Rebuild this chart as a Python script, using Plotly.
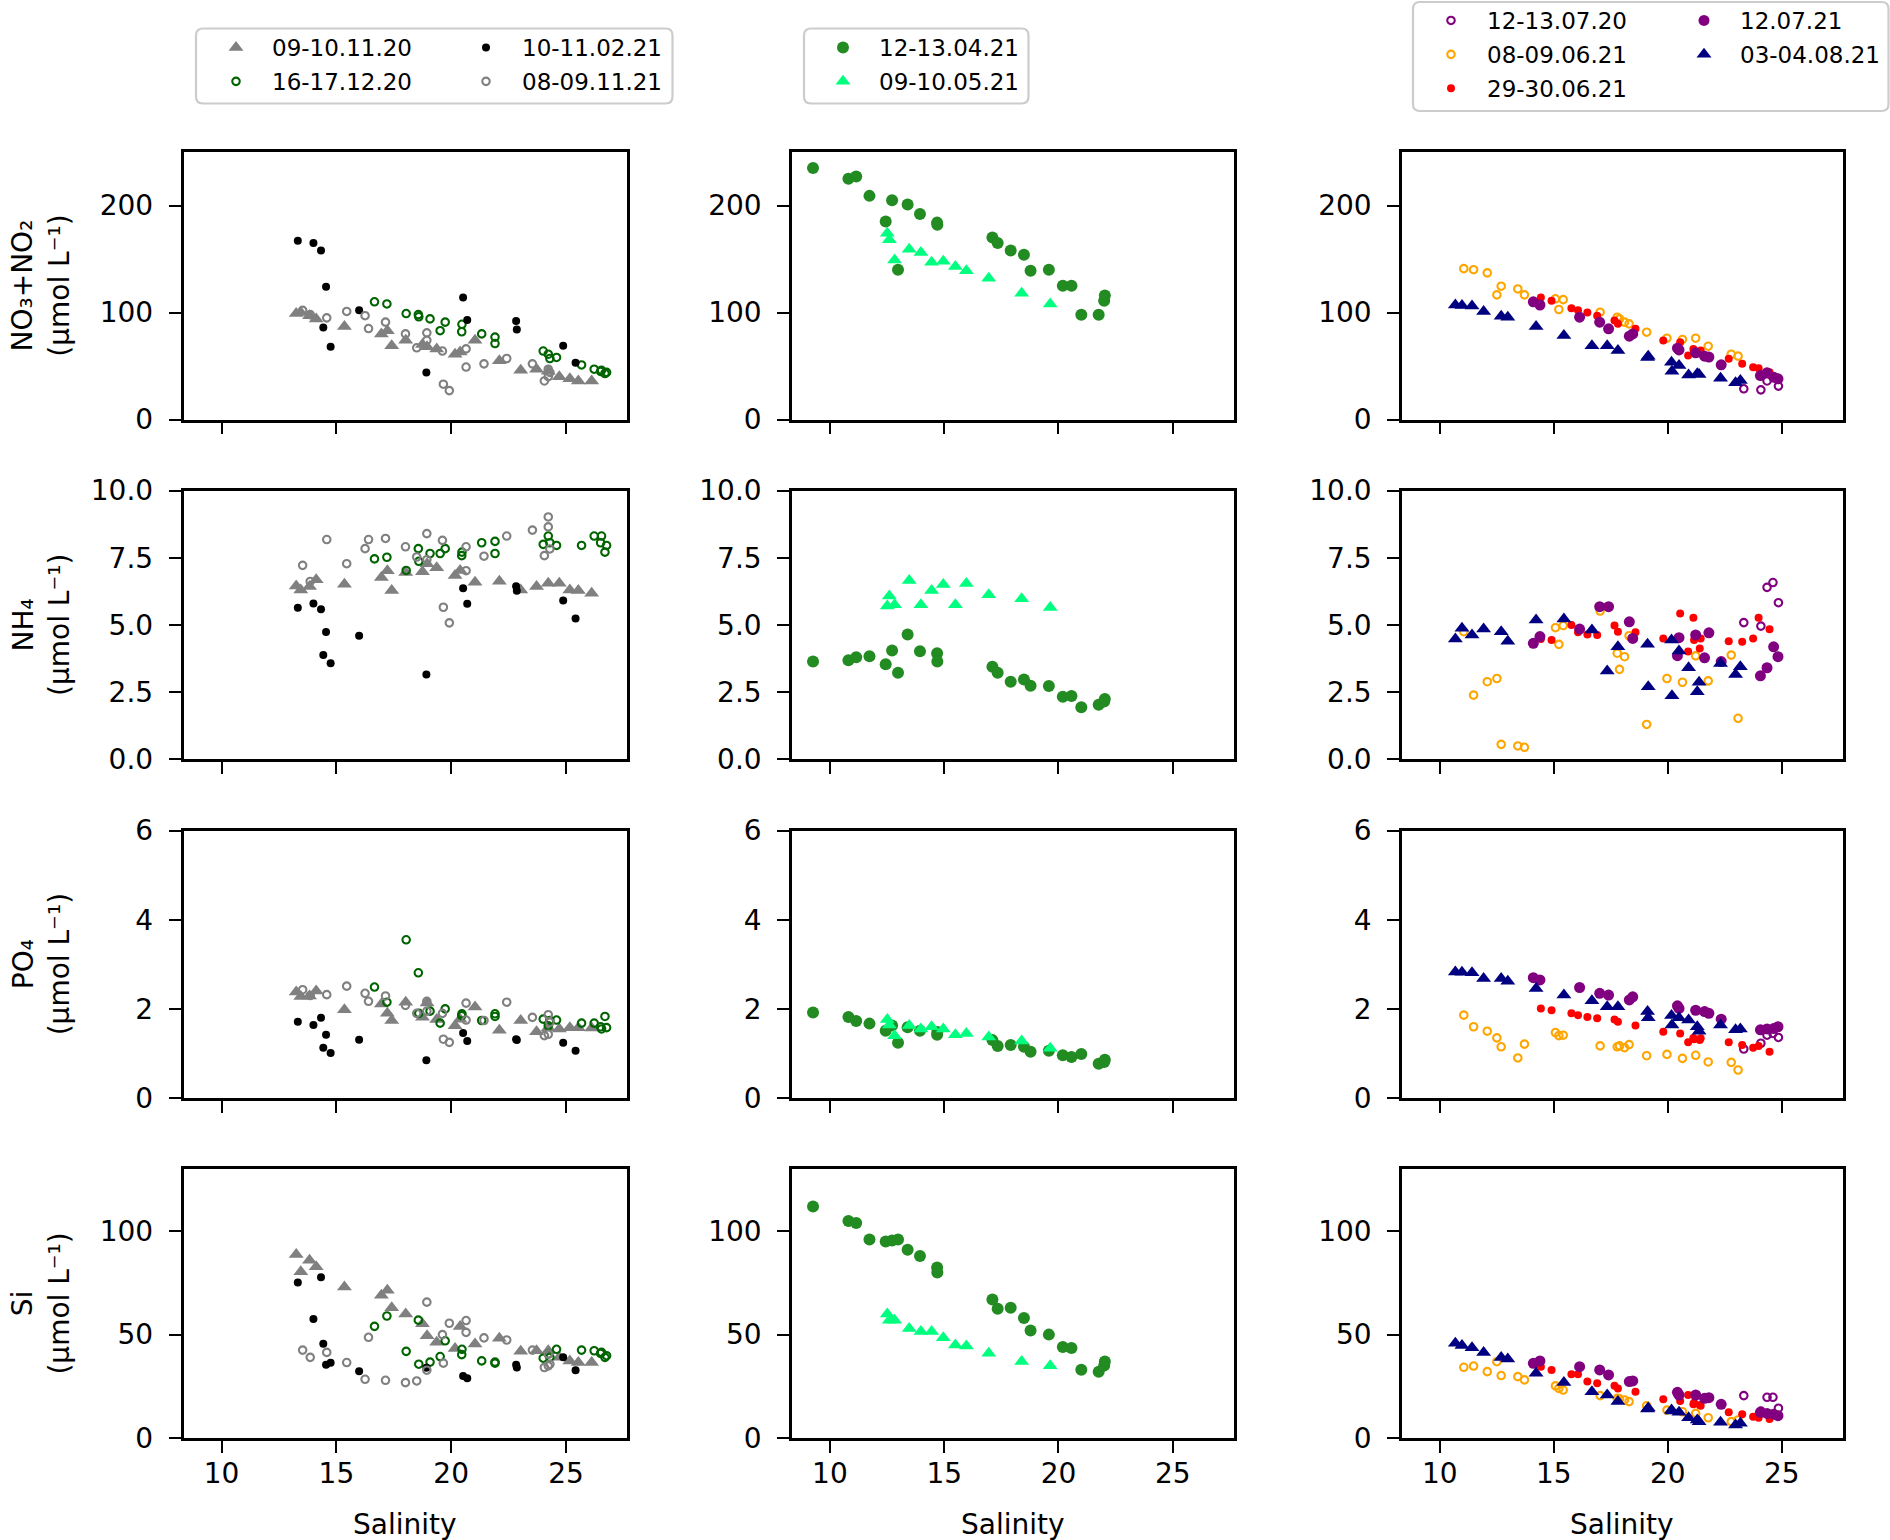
import plotly.graph_objects as go

# ---------------- data ----------------
# column 1
A_x = [13.25, 13.45, 13.83, 14.12, 15.35, 16.96, 17.22, 17.41, 18.02, 18.75, 18.95, 19.37, 20.17, 20.39, 21.04, 22.10, 23.03, 23.72, 24.23, 24.71, 25.17, 25.54, 26.12]
A_no3 = [99, 100, 97, 94, 87, 80, 83, 69, 74, 70, 68, 66, 61, 63, 74, 55, 46, 47, 45, 40, 38, 36, 36]
A_nh4 = [6.45, 6.30, 6.43, 6.68, 6.52, 6.77, 7.02, 6.28, 6.95, 6.98, 7.28, 7.13, 6.84, 7.03, 6.59, 6.63, 6.30, 6.43, 6.55, 6.55, 6.30, 6.28, 6.18]
A_po4 = [2.38, 2.28, 2.29, 2.40, 1.98, 2.11, 1.90, 1.74, 2.15, 1.81, 2.13, 1.76, 1.62, 1.77, 2.04, 1.52, 1.74, 1.49, 1.58, 1.55, 1.58, 1.58, 1.57]
A_si = [88.8, 80.4, 86, 82.8, 73, 69, 71.4, 63, 60, 55.2, 49.5, 46.3, 43.3, 53.9, 45.5, 48.2, 41.9, 42.2, 42.2, 39, 37.3, 36.5, 36.5]

B_x = [16.66, 17.20, 18.04, 18.57, 18.59, 19.08, 19.52, 19.74, 20.47, 20.46, 21.33, 21.91, 21.91, 24.01, 24.23, 24.30, 24.59, 25.68, 26.23, 26.55, 26.51, 26.77, 26.70]
B_no3 = [110, 108, 99, 98, 96, 94, 83, 91, 89, 82, 80, 77, 71, 64, 61, 57, 58, 51, 47, 46, 45, 44, 43]
B_nh4 = [7.46, 7.52, 7.03, 7.84, 7.37, 7.66, 7.66, 7.84, 7.71, 7.58, 8.06, 8.11, 7.66, 8.0, 8.31, 8.06, 7.96, 7.96, 8.31, 8.31, 8.06, 7.96, 7.71]
B_po4 = [2.49, 2.15, 3.55, 2.81, 1.90, 1.95, 1.68, 2.0, 1.89, 1.85, 1.74, 1.89, 1.83, 1.77, 1.62, 1.74, 1.75, 1.68, 1.68, 1.55, 1.60, 1.58, 1.83]
B_si = [54, 59, 41.9, 57, 35.7, 36.7, 39.4, 47, 42.9, 40.3, 37.3, 36.2, 36.7, 38.6, 40.6, 39, 42.9, 42.5, 42.2, 41.4, 40.9, 39.8, 39]

C_x = [13.32, 14.00, 14.33, 14.55, 14.43, 14.75, 15.99, 18.92, 20.52, 20.70, 22.83, 22.86, 24.88, 25.42]
C_no3 = [167, 165, 158, 124, 86, 68, 102, 44, 114, 93, 92, 84, 69, 53]
C_nh4 = [5.64, 5.80, 5.59, 4.74, 3.88, 3.58, 4.60, 3.16, 6.37, 5.79, 6.44, 6.27, 5.91, 5.24]
C_po4 = [1.71, 1.64, 1.80, 1.42, 1.13, 1.01, 1.31, 0.85, 1.46, 1.28, 1.32, 1.30, 1.24, 1.06]
C_si = [75.2, 57.5, 77.8, 35.4, 45.6, 36.4, 32.3, 34.0, 30.0, 28.9, 35.4, 34.1, 39.0, 32.8]

D_x = [13.53, 13.86, 14.58, 15.45, 16.25, 16.40, 17.14, 18.01, 18.50, 18.94, 18.94, 19.62, 19.66, 19.92, 20.65, 20.65, 21.43, 22.42, 23.54, 24.06, 24.23, 24.23, 24.30]
D_no3 = [102, 98, 95, 101, 97, 85, 91, 80, 67, 81, 74, 64, 33, 27, 49, 66, 52, 57, 52, 36, 40, 47, 44]
D_nh4 = [7.22, 6.62, 8.18, 7.28, 7.84, 8.18, 8.22, 7.91, 7.53, 8.40, 7.43, 8.15, 5.66, 5.08, 7.91, 7.02, 7.56, 8.31, 8.53, 7.58, 9.02, 8.65, 7.83]
D_po4 = [2.43, 2.30, 2.32, 2.51, 2.35, 2.17, 2.29, 2.08, 1.90, 2.17, 1.95, 1.90, 1.32, 1.25, 2.13, 1.75, 1.74, 2.15, 1.81, 1.40, 1.87, 1.43, 1.70]
D_si = [42.5, 39, 41.4, 36.5, 28.4, 48.7, 27.9, 26.8, 27.6, 65.7, 32.8, 50, 36.2, 55.5, 56.8, 51.1, 48.4, 47.4, 42.5, 34.1, 40.6, 34.9, 35.7]

# column 2
E_x = [9.26, 10.81, 11.15, 11.73, 12.44, 12.72, 12.98, 13.40, 13.94, 14.69, 14.70, 17.11, 17.34, 17.91, 18.49, 18.78, 19.58, 20.19, 20.57, 21.00, 21.76, 22.00, 22.03]
E_no3 = [235, 225, 227, 209, 185, 205, 140, 201, 192, 184, 182, 170, 165, 158, 154, 139, 140, 125, 125, 98, 98, 111, 116]
E_nh4 = [3.64, 3.69, 3.80, 3.84, 3.54, 4.05, 3.22, 4.65, 4.02, 3.95, 3.64, 3.45, 3.22, 2.89, 2.97, 2.74, 2.73, 2.33, 2.36, 1.94, 2.03, 2.15, 2.25]
E_po4 = [1.92, 1.82, 1.73, 1.67, 1.51, 1.63, 1.24, 1.59, 1.51, 1.42, 1.48, 1.30, 1.17, 1.19, 1.15, 1.04, 1.06, 0.96, 0.92, 0.99, 0.77, 0.81, 0.86]
E_si = [112, 105, 104, 96, 95, 95.5, 96, 91, 88, 82.5, 80, 67, 62.5, 63, 58, 52, 50, 44, 43.5, 33, 32, 35, 37]

F_x = [12.51, 12.60, 12.83, 13.47, 13.98, 14.45, 14.96, 15.49, 15.97, 16.95, 18.39, 19.64]
F_no3 = [174, 168, 149, 159, 156, 147, 148, 143, 139, 132, 118, 108]
F_nh4 = [5.71, 6.08, 5.75, 6.66, 5.75, 6.28, 6.51, 5.75, 6.54, 6.13, 5.98, 5.65]
F_po4 = [1.76, 1.64, 1.40, 1.63, 1.55, 1.60, 1.55, 1.42, 1.45, 1.37, 1.28, 1.12]
F_si = [60, 57, 57, 53, 51.5, 51.5, 48.5, 45, 44.5, 41, 37, 35]

# column 3
G_x = [23.33, 24.08, 24.35, 24.61, 24.85]
G_no3 = [28.7, 27.7, 36, 40, 31.2]
G_nh4 = [5.09, 4.96, 6.40, 6.58, 5.83]
G_po4 = [1.10, 1.23, 1.41, 1.45, 1.36]
G_si = [20.5, 13, 19.7, 19.7, 14.4]

H_x = [11.05, 11.48, 12.08, 12.50, 12.69, 13.42, 13.71, 15.07, 15.22, 15.41, 17.03, 17.78, 17.88, 18.10, 18.30, 19.07, 19.96, 20.64, 21.22, 21.77, 22.78, 23.08]
H_no3 = [141, 140, 137, 116.5, 124.6, 122, 116.5, 112.8, 102.8, 112, 100.3, 95.6, 94, 91, 89.4, 81.6, 76, 74.8, 76, 68.5, 61, 59.2]
H_nh4 = [4.75, 2.39, 2.89, 3.01, 0.56, 0.50, 0.45, 4.90, 4.28, 4.98, 5.52, 3.95, 3.35, 3.82, 4.60, 1.30, 3.01, 2.87, 3.85, 2.92, 3.88, 1.53]
H_po4 = [1.86, 1.60, 1.50, 1.35, 1.15, 0.90, 1.21, 1.47, 1.40, 1.41, 1.17, 1.15, 1.17, 1.13, 1.20, 0.95, 0.98, 0.89, 0.96, 0.81, 0.80, 0.63]
H_si = [34.2, 34.8, 32.1, 36.9, 30.2, 29.7, 28.1, 25.2, 24.0, 23.2, 20.5, 19.2, 18.9, 18.4, 17.6, 15.6, 13.5, 12.7, 11.9, 9.8, 7.9, 8.7]

I_x = [14.43, 14.90, 15.77, 16.06, 16.47, 16.90, 17.66, 17.81, 18.58, 19.80, 20.54, 20.89, 21.12, 21.15, 21.44, 21.40, 22.67, 23.26, 23.74, 23.98, 24.46]
I_no3 = [114, 111, 104, 102, 100, 97, 92.5, 89.4, 84.7, 73.8, 72.3, 59.8, 66, 64, 64.5, 62, 56.7, 52, 48.9, 48, 44.2]
I_nh4 = [4.48, 4.44, 5.0, 4.73, 4.65, 4.63, 4.98, 4.75, 4.73, 4.50, 5.43, 4.01, 5.27, 4.44, 4.50, 4.13, 4.40, 4.38, 4.50, 5.27, 4.84]
I_po4 = [2.01, 1.97, 1.90, 1.86, 1.82, 1.79, 1.76, 1.71, 1.63, 1.49, 1.45, 1.25, 1.35, 1.32, 1.34, 1.30, 1.25, 1.19, 1.13, 1.17, 1.04]
I_si = [34.5, 32.9, 30.8, 30.8, 27.3, 26.5, 25.3, 24.0, 22.4, 18.7, 17.9, 20.8, 16.3, 17, 15.6, 16, 12.4, 11.5, 10.3, 9.8, 9.2]

J_x = [14.10, 14.39, 16.13, 17.01, 17.40, 18.31, 18.46, 20.42, 20.49, 21.22, 21.61, 21.80, 22.34, 24.06, 24.35, 24.64, 24.83]
J_no3 = [110, 107, 95.6, 91, 84.7, 77.9, 80, 66.7, 65, 62.3, 59.2, 58.3, 51.1, 41.1, 43.6, 39.6, 38]
J_nh4 = [4.32, 4.57, 4.85, 5.68, 5.68, 5.12, 4.50, 3.86, 4.53, 4.63, 3.78, 4.71, 3.64, 3.11, 3.41, 4.19, 3.82]
J_po4 = [2.70, 2.65, 2.48, 2.35, 2.31, 2.20, 2.27, 2.07, 2.01, 1.97, 1.94, 1.90, 1.77, 1.53, 1.55, 1.56, 1.60]
J_si = [36.1, 37.3, 34.5, 32.9, 30.5, 27.3, 27.6, 22.1, 20.8, 20.8, 19.2, 19.5, 16.3, 12.4, 11.9, 11.5, 10.8]

K_x = [10.68, 10.97, 11.41, 11.92, 12.69, 12.98, 14.22, 15.44, 16.67, 17.34, 17.81, 19.11, 19.14, 20.16, 20.18, 20.49, 20.91, 21.29, 21.37, 22.31, 22.97, 23.18]
K_no3 = [107, 106.5, 106, 101, 96.6, 95.6, 87, 78.5, 69, 69, 64.5, 58, 59, 53.6, 45, 50.5, 41.7, 42.7, 42, 38.6, 34.3, 36.4]
K_nh4 = [4.48, 4.88, 4.63, 4.85, 4.75, 4.40, 5.19, 5.22, 4.81, 3.29, 4.19, 4.28, 2.70, 4.44, 2.37, 4.03, 3.41, 2.52, 2.87, 3.57, 3.16, 3.45]
K_po4 = [2.83, 2.82, 2.81, 2.68, 2.68, 2.62, 2.46, 2.31, 2.18, 2.05, 2.05, 1.94, 1.80, 1.85, 1.64, 1.80, 1.75, 1.60, 1.50, 1.64, 1.53, 1.55]
K_si = [45.8, 44.7, 43.7, 41.3, 38.9, 38.2, 31.3, 26.9, 22.4, 20.8, 17.6, 14.0, 14.5, 13.5, 13.0, 12.4, 9.8, 8.7, 7.9, 7.6, 6.3, 7.1]

y_titles = ["NO₃+NO₂<br>(µmol L⁻¹)", "NH₄<br>(µmol L⁻¹)", "PO₄<br>(µmol L⁻¹)", "Si<br>(µmol L⁻¹)"]
y_ranges = [[0, 250], [0, 10], [0, 6], [0, 130]]
y_dticks = [100, 2.5, 2, 50]
y_formats = ["d", ".1f", "d", "d"]
x_range = [8.34, 27.66]
x_label = "Salinity"

# series definitions: (label, x, [no3, nh4, po4, si], column, legend, style)
series = [
    ("09-10.11.20", A_x, [A_no3, A_nh4, A_po4, A_si], 0, "legend", "tri_grey"),
    ("16-17.12.20", B_x, [B_no3, B_nh4, B_po4, B_si], 0, "legend", "open_darkgreen"),
    ("10-11.02.21", C_x, [C_no3, C_nh4, C_po4, C_si], 0, "legend2", "dot_black"),
    ("08-09.11.21", D_x, [D_no3, D_nh4, D_po4, D_si], 0, "legend2", "open_grey"),
    ("12-13.04.21", E_x, [E_no3, E_nh4, E_po4, E_si], 1, "legend3", "big_forestgreen"),
    ("09-10.05.21", F_x, [F_no3, F_nh4, F_po4, F_si], 1, "legend3", "tri_springgreen"),
    ("12-13.07.20", G_x, [G_no3, G_nh4, G_po4, G_si], 2, "legend4", "open_purple"),
    ("08-09.06.21", H_x, [H_no3, H_nh4, H_po4, H_si], 2, "legend4", "open_orange"),
    ("29-30.06.21", I_x, [I_no3, I_nh4, I_po4, I_si], 2, "legend4", "dot_red"),
    ("12.07.21", J_x, [J_no3, J_nh4, J_po4, J_si], 2, "legend5", "big_purple"),
    ("03-04.08.21", K_x, [K_no3, K_nh4, K_po4, K_si], 2, "legend5", "tri_navy"),
]

colors = {"grey": "#808080", "darkgreen": "#006400", "black": "#000000",
          "forestgreen": "#228B22", "springgreen": "#00FF7F", "purple": "#800080",
          "orange": "#FFA500", "red": "#FF0000", "navy": "#000080"}


def marker_for(style):
    kind, cname = style.split("_")
    c = colors[cname]
    if kind == "tri":
        return dict(symbol="triangle-up", size=13, color=c, line=dict(width=0))
    if kind == "open":
        return dict(symbol="circle-open", size=7.5, color=c, line=dict(width=2.1, color=c))
    if kind == "dot":
        return dict(symbol="circle", size=8, color=c, line=dict(width=0))
    return dict(symbol="circle", size=12 if cname == "forestgreen" else 11, color=c,
                line=dict(width=0))


# ---------------- layout geometry (pixels) ----------------
W, H = 1890, 1540
col_px = [(183.5, 627.0), (792.0, 1233.5), (1402.0, 1842.5)]
row_px = [(152.0, 419.5), (490.6, 759.4), (830.5, 1098.1), (1169.2, 1438.0)]


def px(xp):
    return xp / W


def py(yp):
    return 1 - yp / H


FONT = "DejaVu Sans"
fig = go.Figure()
layout = dict(width=W, height=H, margin=dict(l=0, r=0, t=0, b=0, autoexpand=False),
              paper_bgcolor="white", plot_bgcolor="white",
              font=dict(family=FONT, size=28, color="black"))

for r in range(4):
    for c in range(3):
        n = r * 3 + c + 1
        sfx = "" if n == 1 else str(n)
        layout["xaxis" + sfx] = dict(
            domain=[px(col_px[c][0]), px(col_px[c][1])], anchor="y" + sfx,
            range=x_range, tickmode="linear", tick0=10, dtick=5, automargin=False,
            showticklabels=(r == 3), ticks="outside", ticklen=12, tickwidth=2.4,
            tickcolor="black", showline=True, mirror=True, linecolor="black", linewidth=2.6,
            showgrid=False, zeroline=False, tickfont=dict(family=FONT, size=28),
            ticklabelstandoff=-3)
        layout["yaxis" + sfx] = dict(
            domain=[py(row_px[r][1]), py(row_px[r][0])], anchor="x" + sfx,
            range=y_ranges[r], tickmode="linear", tick0=0, dtick=y_dticks[r],
            tickformat=y_formats[r], ticks="outside", ticklen=12, tickwidth=2.4,
            automargin=False,
            tickcolor="black", showline=True, mirror=True, linecolor="black", linewidth=2.6,
            showgrid=False, zeroline=False, tickfont=dict(family=FONT, size=28),
            ticklabelstandoff=10)

for (label, xs, ys, col, leg, style) in series:
    for r in range(4):
        n = r * 3 + col + 1
        sfx = "" if n == 1 else str(n)
        fig.add_trace(go.Scatter(
            x=xs, y=ys[r], mode="markers", name=label, marker=marker_for(style),
            xaxis="x" + sfx, yaxis="y" + sfx, legend=leg, legendgroup=label,
            showlegend=(r == 0), hoverinfo="skip"))

leg_common = dict(font=dict(family=FONT, size=23, color="black"), bgcolor="rgba(0,0,0,0)",
                  borderwidth=0, xanchor="left", yanchor="top", orientation="v",
                  tracegroupgap=1, itemwidth=62, itemclick=False, itemdoubleclick=False)
# legend anchor positions (top-left, pixels)
leg_pos = {"legend": (200, 26), "legend2": (450, 26), "legend3": (807, 26),
           "legend4": (1415, -1), "legend5": (1668, -1)}
for name, (lx, ly) in leg_pos.items():
    layout[name] = dict(leg_common, x=px(lx), y=py(ly))

# rounded legend frames
frames = [(196, 28.5, 672.5, 103.5), (804, 28.5, 1028.5, 103.5), (1413, 2, 1888.5, 111)]
shapes = []
rad = 7
for (x0, y0, x1, y1) in frames:
    pth = (f"M {px(x0 + rad)},{py(y0)} L {px(x1 - rad)},{py(y0)} "
           f"Q {px(x1)},{py(y0)} {px(x1)},{py(y0 + rad)} "
           f"L {px(x1)},{py(y1 - rad)} Q {px(x1)},{py(y1)} {px(x1 - rad)},{py(y1)} "
           f"L {px(x0 + rad)},{py(y1)} Q {px(x0)},{py(y1)} {px(x0)},{py(y1 - rad)} "
           f"L {px(x0)},{py(y0 + rad)} Q {px(x0)},{py(y0)} {px(x0 + rad)},{py(y0)} Z")
    shapes.append(dict(type="path", path=pth, xref="paper", yref="paper",
                       line=dict(color="#cccccc", width=2.2), fillcolor="white", layer="below"))
layout["shapes"] = shapes

annotations = []
for r in range(4):
    yc = (row_px[r][0] + row_px[r][1]) / 2
    annotations.append(dict(text=y_titles[r], x=px(41), y=py(yc), xref="paper", yref="paper",
                            showarrow=False, textangle=-90, xanchor="center", yanchor="middle",
                            font=dict(family=FONT, size=28)))
for c in range(3):
    xc = (col_px[c][0] + col_px[c][1]) / 2
    annotations.append(dict(text=x_label, x=px(xc), y=py(1524), xref="paper", yref="paper",
                            showarrow=False, xanchor="center", yanchor="middle",
                            font=dict(family=FONT, size=28)))
layout["annotations"] = annotations

fig.update_layout(**layout)
fig.write_html("out.html", config={"displayModeBar": False},
               post_script="document.body.style.margin='0';document.body.style.overflow='hidden';")
